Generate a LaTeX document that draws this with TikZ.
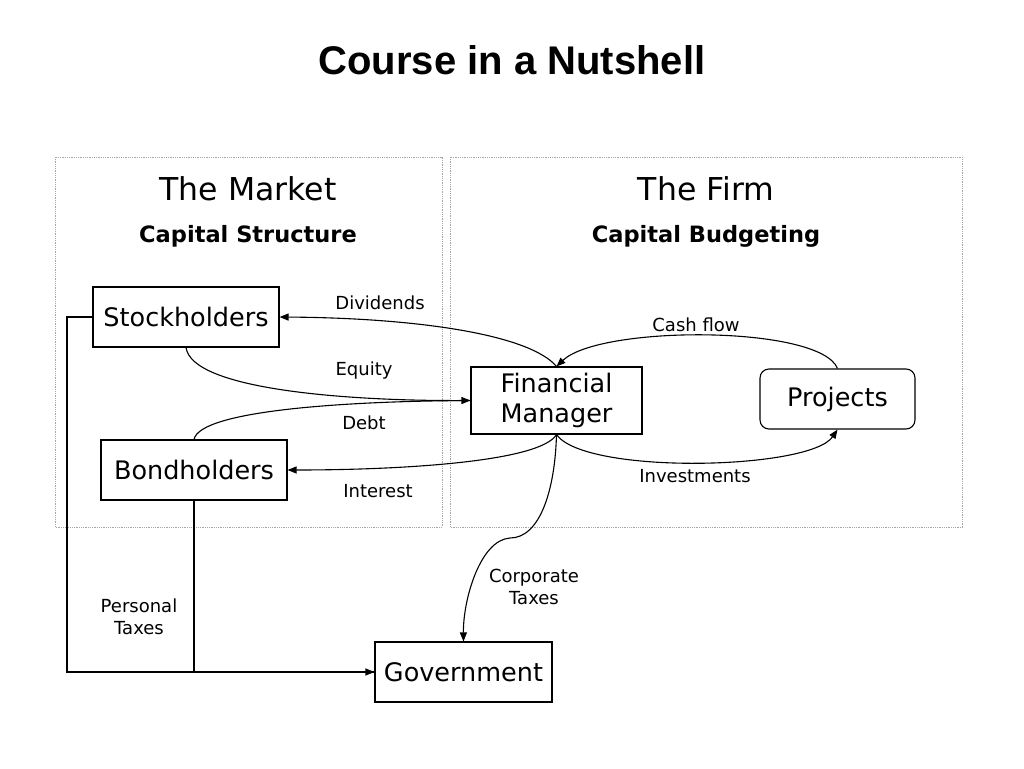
\documentclass[tikz,border=0pt]{standalone}
\usepackage{fontspec}
\setmainfont{DejaVu Sans}
\newfontfamily\titlefont{Liberation Sans}
\usetikzlibrary{arrows.meta}
\tikzset{
  box/.style={draw, line width=1.1pt, inner sep=0pt, font=\fontsize{25.5}{30}\selectfont, align=center},
  lbl/.style={font=\fontsize{18}{22}\selectfont, align=center, inner sep=0pt},
  head/.style={font=\fontsize{31.5}{36}\selectfont, inner sep=0pt},
  sub/.style={font=\bfseries\fontsize{22.5}{26}\selectfont, inner sep=0pt},
  frame/.style={draw=gray!70, densely dotted, line width=0.8pt},
  arr/.style={line width=1.1pt, -{Triangle[length=9pt,width=7pt]}},
  ln/.style={line width=1.1pt}
}
\begin{document}
\begin{tikzpicture}[x=1pt,y=-1pt]
\useasboundingbox (0,0) rectangle (1024,768);
\node[font=\titlefont\bfseries\fontsize{40}{46}\selectfont, inner sep=0pt] (title) at (512,60) {Course in a Nutshell};
\draw[frame] (55,157) rectangle (442,527);
\draw[frame] (450,157) rectangle (962,527);
\node[head] (market) at (248,189) {The Market};
\node[sub] (cs) at (248,236) {Capital Structure};
\node[head] (firm) at (706,189) {The Firm};
\node[sub] (cb) at (706,236) {Capital Budgeting};
\node[box, minimum width=186pt, minimum height=60pt] (stock) at (186,317) {Stockholders};
\node[box, minimum width=186pt, minimum height=60pt] (bond) at (194,470) {Bondholders};
\node[box, minimum width=171pt, minimum height=67pt, font=\fontsize{25.5}{30}\selectfont] (fm) at (556.5,400.5) {Financial\\Manager};
\node[box, minimum width=155pt, minimum height=60pt, rounded corners=9pt] (proj) at (837.5,399) {Projects};
\node[box, minimum width=177pt, minimum height=60pt] (gov) at (463.5,672) {Government};
% arrows
\draw[arr] (fm.north) .. controls (530,335) and (420,318) .. (stock.east);
\draw[arr] (stock.south) .. controls (192,390) and (350,401) .. (fm.west);
\draw[ln] (bond.north) .. controls (200,410) and (350,401) .. (fm.west);
\draw[arr] (fm.south) .. controls (540,462) and (400,470) .. (bond.east);
\draw[arr] (proj.north) .. controls (820,325) and (600,325) .. (fm.north);
\draw[arr] (fm.south) .. controls (585,475) and (810,470) .. (proj.south);
\coordinate (mid) at (510,538);
\draw[arr] (fm.south) .. controls (555,490) and (540,538) .. (mid) .. controls (480,540) and (463,600) .. (gov.north);
\draw[arr] (stock.west) -- (67,317) |- (gov.west);
\draw[ln] (bond.south) |- (gov.west);
% labels
\node[lbl] (ldiv) at (380,303) {Dividends};
\node[lbl] (leq) at (364,371) {Equity};
\node[lbl] (ldebt) at (364,423) {Debt};
\node[lbl] (lint) at (378,491) {Interest};
\node[lbl] (lcf) at (696,325) {Cash flow};
\node[lbl] (linv) at (695,476) {Investments};
\node[lbl] (lcorp) at (534,587) {Corporate\\Taxes};
\node[lbl] (lpers) at (139,617) {Personal\\Taxes};
\end{tikzpicture}
\end{document}
